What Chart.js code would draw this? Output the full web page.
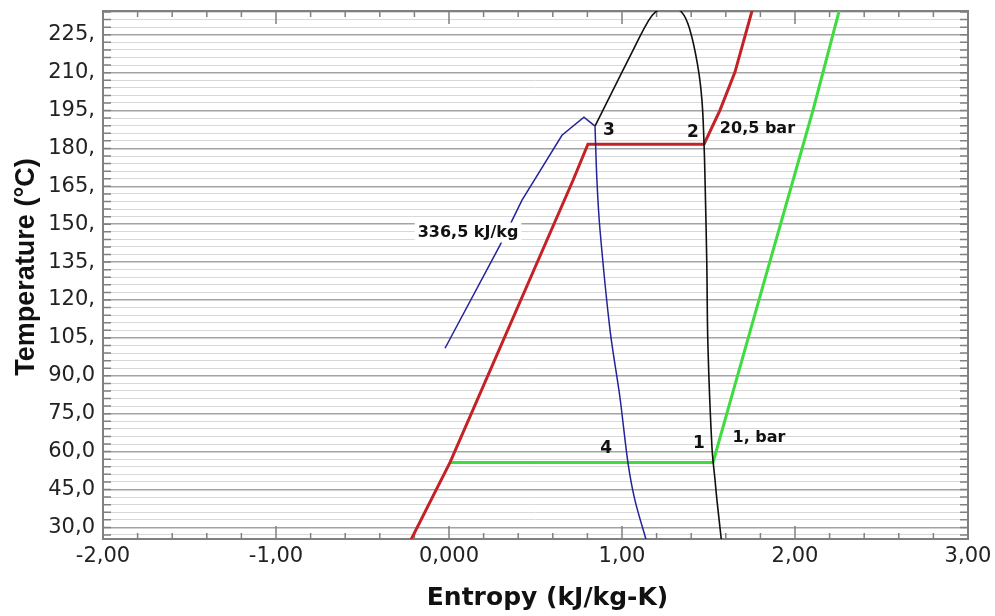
<!DOCTYPE html>
<html>
<head>
<meta charset="utf-8">
<title>T-s diagram</title>
<script src="https://cdn.jsdelivr.net/npm/chart.js@4.4.1/dist/chart.umd.min.js"></script>
<style>
  html, body { margin: 0; padding: 0; background: #fff; }
  #wrap { width: 995px; height: 616px; }
</style>
</head>
<body>
<div id="wrap"><canvas id="tsChart" width="995" height="616"></canvas></div>
<script>
// Saturation dome (entropy kJ/kg-K, temperature °C)
const domeS = [0.844, 0.948, 1.064, 1.145, 1.19, 1.27, 1.345, 1.393, 1.439, 1.462, 1.474, 1.480, 1.490, 1.497, 1.520, 1.538, 1.549, 1.576];
const domeT = [188.8, 203.1, 218.9, 229.6, 233.8, 236.2, 233.9, 226.8, 212.2, 199.1, 182.1, 167.4, 135.0, 101.3, 61.7, 48.6, 40.7, 24.0];

// Isobar 20,5 bar
const highPS = [-0.228, 0.006, 0.717, 0.803, 1.474, 1.566, 1.653, 1.762];
const highPT = [24.0, 55.7, 167.4, 181.7, 181.7, 195.1, 210.2, 237.0];

// Isobar 1 bar
const lowPS = [0.006, 1.526, 1.800, 2.104, 2.265];
const lowPT = [55.7, 55.7, 122.0, 195.1, 237.0];

// Isenthalp 336,5 kJ/kg, split at the kink
const enthLeftS = [-0.023, 0.295, 0.422, 0.653, 0.780, 0.844];
const enthLeftT = [100.9, 141.7, 159.5, 185.2, 192.4, 188.8];
const enthRightS = [0.844, 0.855, 0.873, 0.931, 0.988, 1.035, 1.075, 1.144];
const enthRightT = [188.8, 167.4, 147.6, 108.0, 81.5, 55.3, 40.7, 24.0];

// Axis ticks
const xTicks = [-2, -1, 0, 1, 2, 3];
const xTickLabels = ['-2,00', '-1,00', '0,000', '1,00', '2,00', '3,00'];
const yMajor = [30, 45, 60, 75, 90, 105, 120, 135, 150, 165, 180, 195, 210, 225];
const yTickLabels = ['30,0', '45,0', '60,0', '75,0', '90,0', '105,', '120,', '135,', '150,', '165,', '180,', '195,', '210,', '225,'];
const xTitle = 'Entropy (kJ/kg-K)';
const yTitle = 'Temperature (°C)';

// Text notes placed in data coordinates
const noteText = ['3', '2', '20,5 bar', '336,5 kJ/kg', '4', '1', '1, bar'];
const noteS = [0.925, 1.410, 1.783, 0.110, 0.908, 1.445, 1.792];
const noteT = [187.1, 186.3, 187.9, 146.7, 61.3, 63.2, 65.6];
const noteBox = [false, false, false, true, false, false, false];

function toPoints(xs, ys) {
    return xs.map((v, i) => ({ x: v, y: ys[i] }));
}

function line(data, color, width, tension) {
    return {
        data: data,
        showLine: true,
        borderColor: color,
        backgroundColor: color,
        borderWidth: width,
        pointRadius: 0,
        pointHoverRadius: 0,
        tension: tension,
        clip: 0
    };
}

// Border, inward tick marks, axis titles and text notes
const frameAndNotes = {
    id: 'frameAndNotes',
    beforeDatasetsDraw(chart) {
        const { ctx, chartArea: a, scales: { x, y } } = chart;
        ctx.save();
        ctx.strokeStyle = '#808080';
        ctx.lineWidth = 1.5;
        ctx.beginPath();
        y.ticks.forEach(t => {
            const py = y.getPixelForValue(t.value);
            ctx.moveTo(a.left, py); ctx.lineTo(a.left + 8, py);
            ctx.moveTo(a.right, py); ctx.lineTo(a.right - 8, py);
        });
        for (let i = 0; i <= 25; i++) {
            const px = x.getPixelForValue(-2 + i * 0.2);
            const len = i % 5 === 0 ? 13 : 6;
            ctx.moveTo(px, a.bottom); ctx.lineTo(px, a.bottom - len);
            ctx.moveTo(px, a.top); ctx.lineTo(px, a.top + len);
        }
        ctx.stroke();
        ctx.lineWidth = 2;
        ctx.strokeRect(a.left, a.top, a.right - a.left, a.bottom - a.top);

        // axis titles, set a little off the plot centre
        ctx.fillStyle = '#111';
        ctx.textAlign = 'center';
        ctx.textBaseline = 'middle';
        ctx.font = 'bold 25px "DejaVu Sans"';
        ctx.fillText(xTitle, (a.left + a.right) / 2 + 12, 598);
        ctx.translate(27, (a.top + a.bottom) / 2 - 8);
        ctx.rotate(-Math.PI / 2);
        ctx.font = 'bold 27px "Liberation Sans"';
        ctx.fillText(yTitle, 0, 0);
        ctx.restore();
    },
    afterDatasetsDraw(chart) {
        const { ctx, scales: { x, y } } = chart;
        ctx.save();
        ctx.textAlign = 'center';
        ctx.textBaseline = 'middle';
        noteText.forEach((txt, i) => {
            ctx.font = txt.length > 1 ? 'bold 16px "DejaVu Sans"' : 'bold 17px "DejaVu Sans"';
            const px = x.getPixelForValue(noteS[i]);
            const py = y.getPixelForValue(noteT[i]);
            if (noteBox[i]) {
                const w = ctx.measureText(txt).width;
                ctx.fillStyle = '#fff';
                ctx.fillRect(px - w / 2 - 3, py - 10, w + 6, 20);
            }
            ctx.fillStyle = '#111';
            ctx.fillText(txt, px, py);
        });
        ctx.restore();
    }
};

const ctx = document.getElementById('tsChart').getContext('2d');
const tsChart = new Chart(ctx, {
    type: 'scatter',
    data: {
        datasets: [
            line(toPoints(domeS, domeT), '#111111', 1.6, 0.4),
            line(toPoints(enthLeftS, enthLeftT), '#23239a', 1.5, 0),
            line(toPoints(enthRightS, enthRightT), '#23239a', 1.5, 0.3),
            line(toPoints(highPS, highPT), '#c42226', 3, 0),
            line(toPoints(lowPS, lowPT), '#3fdc3f', 3, 0)
        ]
    },
    options: {
        responsive: false,
        animation: false,
        events: [],
        layout: { padding: { top: 11, right: 27, left: 0, bottom: 0 } },
        plugins: {
            legend: { display: false },
            tooltip: { enabled: false }
        },
        scales: {
            x: {
                type: 'linear',
                min: -2,
                max: 3,
                bounds: 'data',
                afterBuildTicks: scale => { scale.ticks = xTicks.map(v => ({ value: v })); },
                afterFit: scale => {
                    scale.height = 77;
                    scale.paddingLeft = 0;
                    scale.paddingRight = 0;
                },
                ticks: {
                    autoSkip: false,
                    maxRotation: 0,
                    padding: 5,
                    color: '#222',
                    font: { family: 'DejaVu Sans', size: 21 },
                    callback: value => {
                        const i = xTicks.indexOf(value);
                        return i >= 0 ? xTickLabels[i] : '';
                    }
                },
                grid: { display: false, drawTicks: false },
                border: { display: false }
            },
            y: {
                type: 'linear',
                min: 25.4,
                max: 234.4,
                bounds: 'data',
                afterBuildTicks: scale => {
                    const t = [];
                    for (let v = 27; v <= 234; v += 3) t.push({ value: v });
                    scale.ticks = t;
                },
                afterFit: scale => {
                    scale.width = 103;
                    scale.paddingTop = 0;
                    scale.paddingBottom = 0;
                },
                ticks: {
                    autoSkip: false,
                    padding: 8,
                    color: '#222',
                    font: { family: 'DejaVu Sans', size: 21 },
                    callback: value => {
                        const i = yMajor.indexOf(value);
                        return i >= 0 ? yTickLabels[i] : '';
                    }
                },
                grid: {
                    drawTicks: false,
                    color: c => (c.tick && yMajor.includes(c.tick.value)) ? '#a3a3a3' : '#d8d8d8',
                    lineWidth: c => (c.tick && yMajor.includes(c.tick.value)) ? 1.5 : 1
                },
                border: { display: false }
            }
        }
    },
    plugins: [frameAndNotes]
});
</script>
</body>
</html>
